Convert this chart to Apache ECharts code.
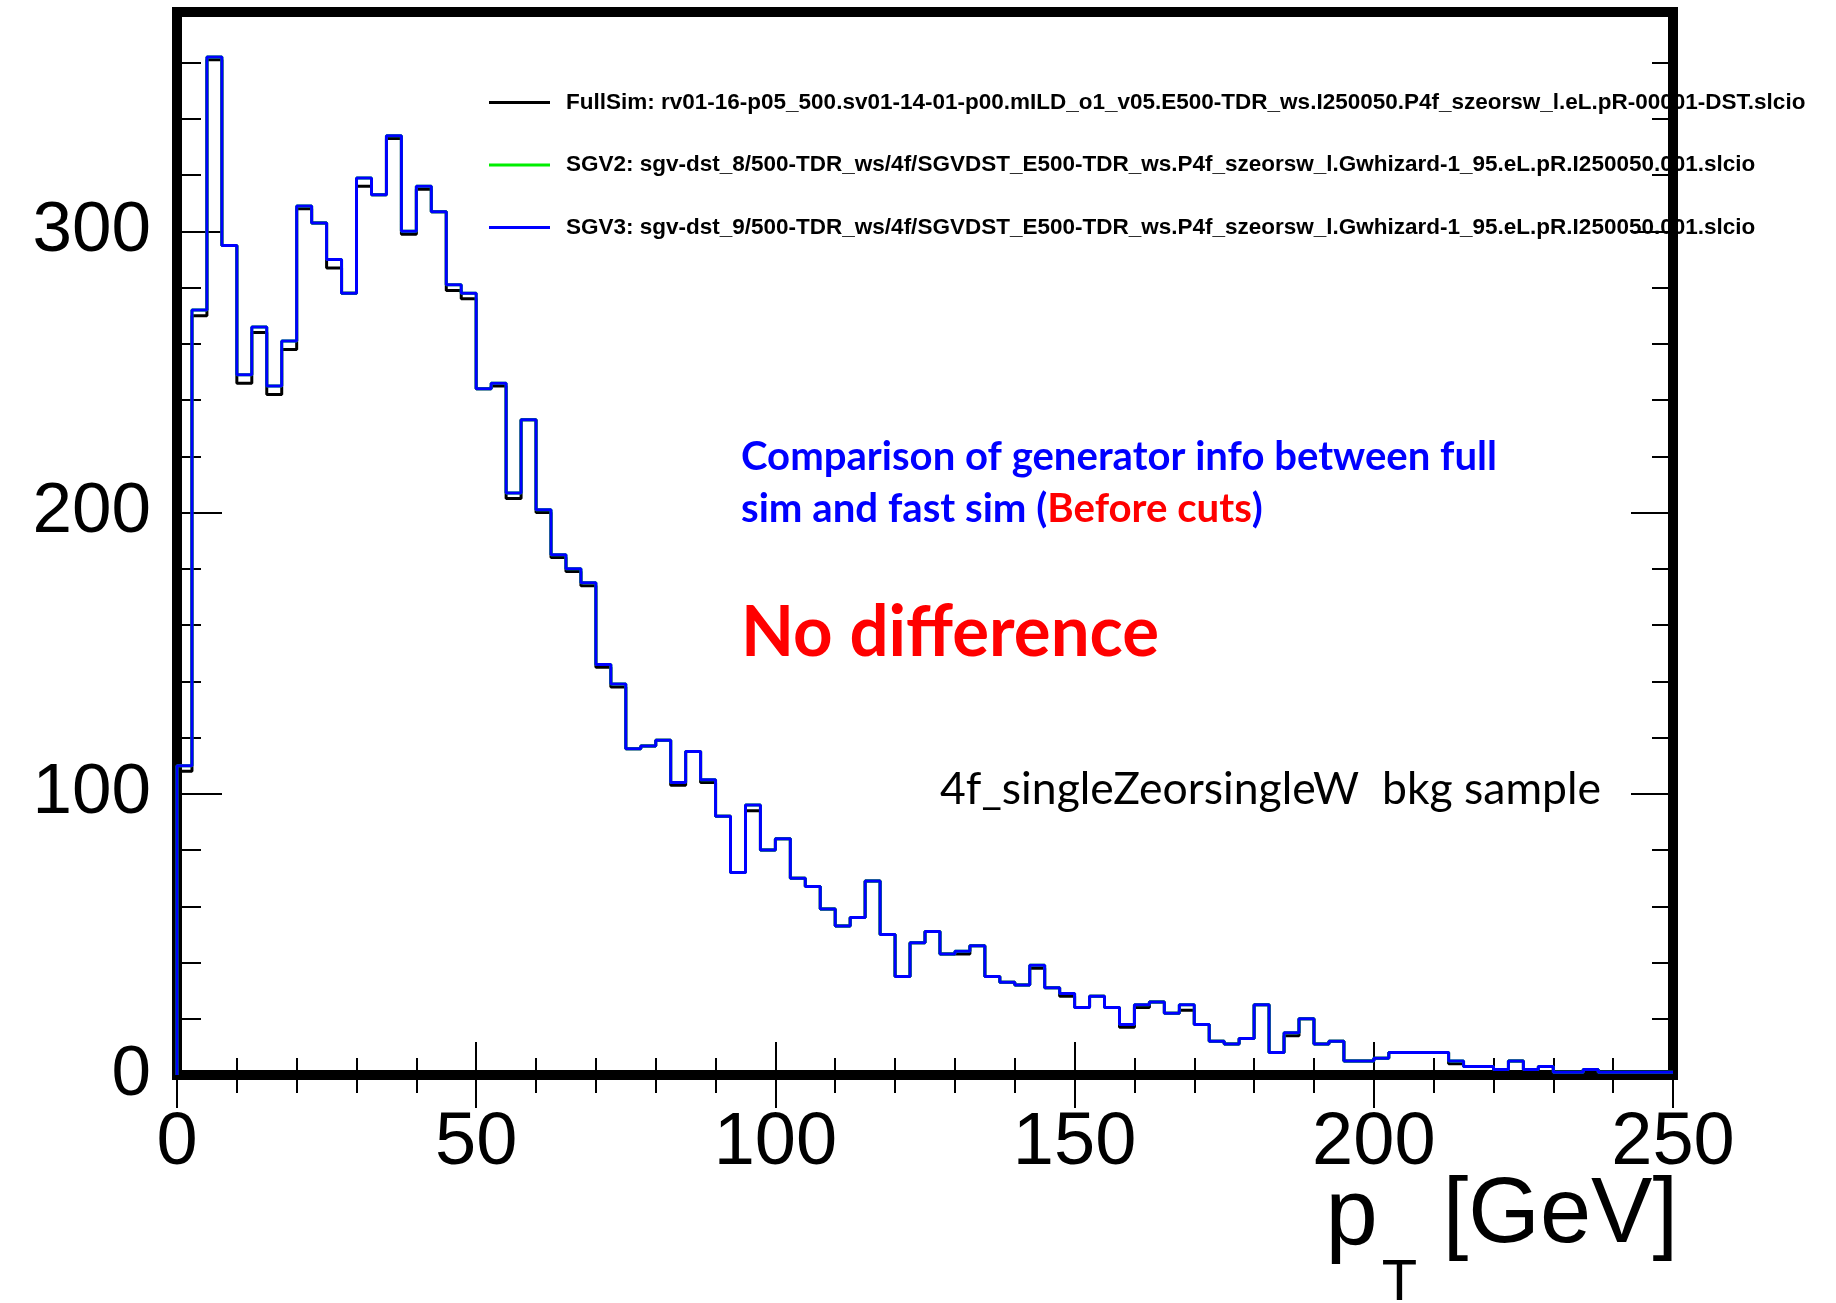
<!DOCTYPE html>
<html><head><meta charset="utf-8">
<script src="https://cdn.jsdelivr.net/npm/echarts@6/dist/echarts.min.js"></script>
<style>html,body{margin:0;padding:0;background:#fff}#c{width:1836px;height:1303px}</style>
</head><body><div id="c"></div>
<script>
// ---- data ----
const xMin = 0, xMax = 250, binWidth = 2.5;
const xTickStep = 50, yTickStep = 100, yMinorStep = 20, yMax = 378;
const seriesNames = [
  'FullSim: rv01-16-p05_500.sv01-14-01-p00.mILD_o1_v05.E500-TDR_ws.I250050.P4f_szeorsw_l.eL.pR-00001-DST.slcio',
  'SGV2: sgv-dst_8/500-TDR_ws/4f/SGVDST_E500-TDR_ws.P4f_szeorsw_l.Gwhizard-1_95.eL.pR.I250050.001.slcio',
  'SGV3: sgv-dst_9/500-TDR_ws/4f/SGVDST_E500-TDR_ws.P4f_szeorsw_l.Gwhizard-1_95.eL.pR.I250050.001.slcio'
];
const fullSim = [108,270,361,295,246,264,242,258,308,303,
  287,278,316,313,333,299,315,307,279,276,
  244,245,205,233,200,184,179,174,145,138,
  116,117,119,103,115,104,92,72,94,80,
  84,70,67,59,53,56,69,50,35,47,
  51,43,43,46,35,33,32,38,31,28,
  24,28,24,17,24,26,22,23,18,12,
  11,13,25,8,14,20,11,12,5,5,
  6,8,8,8,8,4,3,3,2,5,
  2,3,1,1,2,1,1,1,1,1];
const sgv2 = [110,272,362,295,249,266,245,261,309,303,
  290,278,319,313,334,300,316,307,281,278,
  244,246,207,233,201,185,180,175,146,139,
  116,117,119,104,115,105,92,72,96,80,
  84,70,67,59,53,56,69,50,35,47,
  51,43,44,46,35,33,32,39,31,29,
  24,28,24,18,25,26,22,25,18,12,
  11,13,25,8,15,20,11,12,5,5,
  6,8,8,8,8,5,3,3,2,5,
  2,3,1,1,2,1,1,1,1,1];
const sgv3 = [110,272,362,295,249,266,245,261,309,303,
  290,278,319,313,334,300,316,307,281,278,
  244,246,207,233,201,185,180,175,146,139,
  116,117,119,104,115,105,92,72,96,80,
  84,70,67,59,53,56,69,50,35,47,
  51,43,44,46,35,33,32,39,31,29,
  24,28,24,18,25,26,22,25,18,12,
  11,13,25,8,15,20,11,12,5,5,
  6,8,8,8,8,5,3,3,2,5,
  2,3,1,1,2,1,1,1,1,1];
const noteLine1 = 'Comparison of generator info between full';
const noteLine2a = 'sim and fast sim (', noteLine2b = 'Before cuts', noteLine2c = ')';
const noteBig = 'No difference';
const noteSample = '4f_singleZeorsingleW  bkg sample';

// ---- helpers ----
function histPoints(vals) {
  const pts = [[xMin, 0]];
  vals.forEach((v, i) => pts.push([xMin + i * binWidth, v]));
  pts.push([xMax, vals[vals.length - 1]]);
  return pts;
}
const mctx = document.createElement('canvas').getContext('2d');
function fitScale(text, font, target) { mctx.font = font; return target / mctx.measureText(text).width; }

const chart = echarts.init(document.getElementById('c'), null, {renderer: 'canvas'});
const tickStyle = {color: '#000', width: 2};
const baseX = {type: 'value', min: xMin, max: xMax, interval: xTickStep, splitLine: {show: false},
  axisLine: {show: false}};
const baseY = {type: 'value', min: 0, max: yMax, splitLine: {show: false}, axisLine: {show: false}};

const sansFont = '"Liberation Sans", Arial, Helvetica, sans-serif';
const calFont = 'Lato, "Open Sans", sans-serif';

const s1 = fitScale(noteLine1, 'bold 40px Lato', 756);
const s2 = fitScale(noteLine2a + noteLine2b + noteLine2c, 'bold 40px Lato', 521);
const s3 = fitScale(noteBig, 'bold 70px Lato', 418);
const s4 = fitScale(noteSample, '45px Lato', 661);

const colors = ['#000000', '#00ee00', '#0000ff'];
const datasets = [fullSim, sgv2, sgv3];

chart.setOption({
  animation: false,
  backgroundColor: '#fff',
  grid: {left: 177, top: 12, right: 163, bottom: 228, show: true, borderColor: '#000', borderWidth: 10,
    backgroundColor: 'transparent', containLabel: false, outerBoundsMode: 'none', z: 3},
  xAxis: [
    Object.assign({}, baseX, {position: 'bottom',
      axisTick: {show: true, inside: true, length: 33, lineStyle: tickStyle},
      minorTick: {show: true, splitNumber: 5, length: 17, lineStyle: tickStyle},
      axisLabel: {show: true, fontSize: 74, fontFamily: sansFont, color: '#000', margin: 32},
      name: '{p|p}{t|T}{g| [GeV]}', nameLocation: 'end', nameGap: 5, nameMoveOverlap: false,
      nameTextStyle: {align: 'right', verticalAlign: 'top', padding: [96, 0, 0, 0],
        rich: {
          p: {fontSize: 94, fontFamily: sansFont, color: '#000', lineHeight: 100, verticalAlign: 'top'},
          t: {fontSize: 58, fontFamily: sansFont, color: '#000', lineHeight: 58, verticalAlign: 'top', padding: [84, 0, 0, 4]},
          g: {fontSize: 92, fontFamily: sansFont, color: '#000', lineHeight: 100, verticalAlign: 'top'}
        }}}),
    Object.assign({}, baseX, {position: 'top',
      axisTick: {show: true, inside: true, length: 33, lineStyle: tickStyle},
      minorTick: {show: true, splitNumber: 5, length: 18, lineStyle: tickStyle},
      axisLabel: {show: false}})
  ],
  yAxis: [
    Object.assign({}, baseY, {position: 'left', interval: yTickStep,
      axisTick: {show: true, inside: true, length: 45, lineStyle: tickStyle},
      axisLabel: {show: true, fontSize: 71, fontFamily: sansFont, color: '#000', margin: 26,
        formatter: v => (v % yTickStep === 0 ? String(v) : '')}}),
    Object.assign({}, baseY, {position: 'left', interval: yMinorStep,
      axisTick: {show: true, inside: true, length: 24, lineStyle: tickStyle},
      axisLabel: {show: false}}),
    Object.assign({}, baseY, {position: 'right', interval: yTickStep,
      axisTick: {show: true, inside: true, length: 42, lineStyle: tickStyle},
      axisLabel: {show: false}}),
    Object.assign({}, baseY, {position: 'right', interval: yMinorStep,
      axisTick: {show: true, inside: true, length: 21, lineStyle: tickStyle},
      axisLabel: {show: false}})
  ],
  legend: {
    orient: 'vertical', left: 489, top: 91, padding: 0, z: 1, icon: 'rect',
    itemWidth: 61, itemHeight: 3, itemGap: 39.5,
    textStyle: {fontSize: 22.5, fontWeight: 'bold', fontFamily: sansFont, color: '#000', lineHeight: 22, padding: [0, 0, 0, 11]},
    data: seriesNames
  },
  series: datasets.map((d, i) => ({
    name: seriesNames[i], type: 'line', step: 'end', data: histPoints(d),
    xAxisIndex: 0, yAxisIndex: 0, symbol: 'none', showSymbol: false,
    lineStyle: {color: colors[i], width: 3}, itemStyle: {color: colors[i]}, z: 3 + i
  })),
  graphic: [
    {type: 'text', x: 741, y: 457.5, scaleX: s1, z: 100,
      style: {text: noteLine1, fontSize: 40, fontWeight: 'bold', fontFamily: calFont, fill: '#0000ff', align: 'left', verticalAlign: 'middle'}},
    {type: 'text', x: 741, y: 509.5, scaleX: s2, z: 100,
      style: {text: '{b|' + noteLine2a + '}{r|' + noteLine2b + '}{b|' + noteLine2c + '}',
        fontSize: 40, fontWeight: 'bold', fontFamily: calFont, align: 'left', verticalAlign: 'middle',
        rich: {b: {fill: '#0000ff', fontSize: 40, fontWeight: 'bold', fontFamily: calFont},
               r: {fill: '#ff0000', fontSize: 40, fontWeight: 'bold', fontFamily: calFont}}}},
    {type: 'text', x: 741, y: 633, scaleX: s3, z: 100,
      style: {text: noteBig, fontSize: 70, fontWeight: 'bold', fontFamily: calFont, fill: '#ff0000', align: 'left', verticalAlign: 'middle'}},
    {type: 'text', x: 940, y: 789.5, scaleX: s4, z: 100,
      style: {text: noteSample, fontSize: 45, fontFamily: calFont, fill: '#000', align: 'left', verticalAlign: 'middle'}}
  ]
});
</script></body></html>
